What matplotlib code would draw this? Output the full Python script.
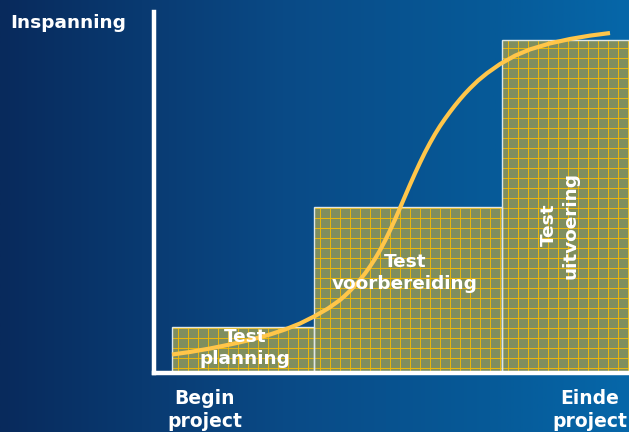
import numpy as np
import matplotlib
matplotlib.use("Agg")
import matplotlib.pyplot as plt
from matplotlib.colors import LinearSegmentedColormap
from matplotlib.patches import Rectangle

# ---- data ----
phases = ["Test\nplanning", "Test\nvoorbereiding", "Test\nuitvoering"]
phase_start = [3.8, 33.7, 73.3]
phase_width = [29.9, 39.6, 26.7]
phase_effort = [12.6, 45.9, 92.2]

curve_x = [3.79, 7.58, 11.79, 16.00, 20.21, 24.42, 27.58, 30.74, 33.89, 36.63,
           39.16, 40.21, 41.26, 42.32, 43.37, 44.42, 45.47, 46.53, 47.58, 48.63,
           49.68, 50.74, 51.79, 52.84, 53.89, 54.95, 56.00, 57.05, 58.11, 59.16,
           60.21, 61.26, 62.32, 63.37, 64.42, 65.47, 66.53, 68.21, 70.11, 72.84,
           76.00, 79.16, 83.37, 87.58, 91.79, 96.00]
curve_y = [4.99, 5.69, 6.66, 7.77, 9.02, 10.54, 11.93, 13.59, 15.67, 17.75,
           20.11, 21.33, 22.66, 24.13, 25.71, 27.46, 29.40, 31.54, 33.90, 36.53,
           39.39, 42.44, 45.63, 48.88, 52.09, 55.23, 58.22, 61.05, 63.69, 66.13,
           68.35, 70.37, 72.29, 74.09, 75.78, 77.36, 78.83, 80.97, 83.02, 85.55,
           87.88, 89.63, 91.29, 92.51, 93.45, 94.17]

y_label = "Inspanning"
x_labels = ["Begin\nproject", "Einde\nproject"]
x_label_pos = [10.7, 91.8]

W, H = 629, 432
fig = plt.figure(figsize=(W / 100, H / 100), dpi=100)

# background gradient
bg = fig.add_axes([0, 0, 1, 1])
bg.set_axis_off()
cmap = LinearSegmentedColormap.from_list(
    "bg", [(0.0, "#082a5c"), (0.45, "#0a4a86"), (0.78, "#065a98"), (1.0, "#0667a9")])
bg.imshow(np.linspace(0, 1, 256)[None, :], aspect="auto", cmap=cmap,
          extent=[0, 1, 0, 1])
bg.set_xlim(0, 1)
bg.set_ylim(0, 1)

left = 154 / W
bottom = (H - 372.5) / H
ax = fig.add_axes([left, bottom, 1 - left, (372.5 - 12) / H])
ax.patch.set_alpha(0)
ax.set_xlim(0, 100)
ax.set_ylim(0, 100)
for s in ["top", "right"]:
    ax.spines[s].set_visible(False)
for s in ["left", "bottom"]:
    ax.spines[s].set_color("white")
    ax.spines[s].set_linewidth(3.2)
    ax.spines[s].set_zorder(6)
ax.set_xticks([])
ax.set_yticks([])

# grid pattern inside bars (10 px cells)
dx = 10 / 4.75
dy = 10 / 3.605
for x0, w, h in zip(phase_start, phase_width, phase_effort):
    rect = Rectangle((x0, 0), w, h, facecolor="#7f8e5e", edgecolor="none", zorder=2)
    ax.add_patch(rect)
    for gx in np.arange(x0 + dx * 0.6, x0 + w, dx):
        ln, = ax.plot([gx, gx], [0, h], color="#e8b60c", lw=0.72,
                      antialiased=False, zorder=3)
        ln.set_clip_path(rect)
    for gy in np.arange(dy * 0.5, h, dy):
        ln, = ax.plot([x0, x0 + w], [gy, gy], color="#e8b60c", lw=0.72,
                      antialiased=False, zorder=3)
        ln.set_clip_path(rect)
    ax.add_patch(Rectangle((x0, 0), w, h, facecolor="none",
                           edgecolor="#dfe6e6", lw=1.0, zorder=4))

ax.plot(curve_x, curve_y, color="#ffc64a", lw=3.0, solid_capstyle="butt",
        solid_joinstyle="round", zorder=5)

txt = dict(color="white", fontweight="bold", ha="center",
           va="center", family="DejaVu Sans", linespacing=1.25, zorder=7)
label_pos = [(19.2, 6.8, 0), (52.8, 27.6, 0), (85.5, 40.9, 90)]
for name, (lx, ly, rot) in zip(phases, label_pos):
    ax.text(lx, ly, name, rotation=rot, fontsize=13.3, **txt)

for lab, xp in zip(x_labels, x_label_pos):
    ax.text(xp, -10.3, lab, clip_on=False, fontsize=13.5, **txt)

fig.text(10 / W, 1 - 23 / H, y_label, color="white", fontweight="bold",
         fontsize=13.3, ha="left", va="center", family="DejaVu Sans")

fig.savefig("out.png", dpi=100)
